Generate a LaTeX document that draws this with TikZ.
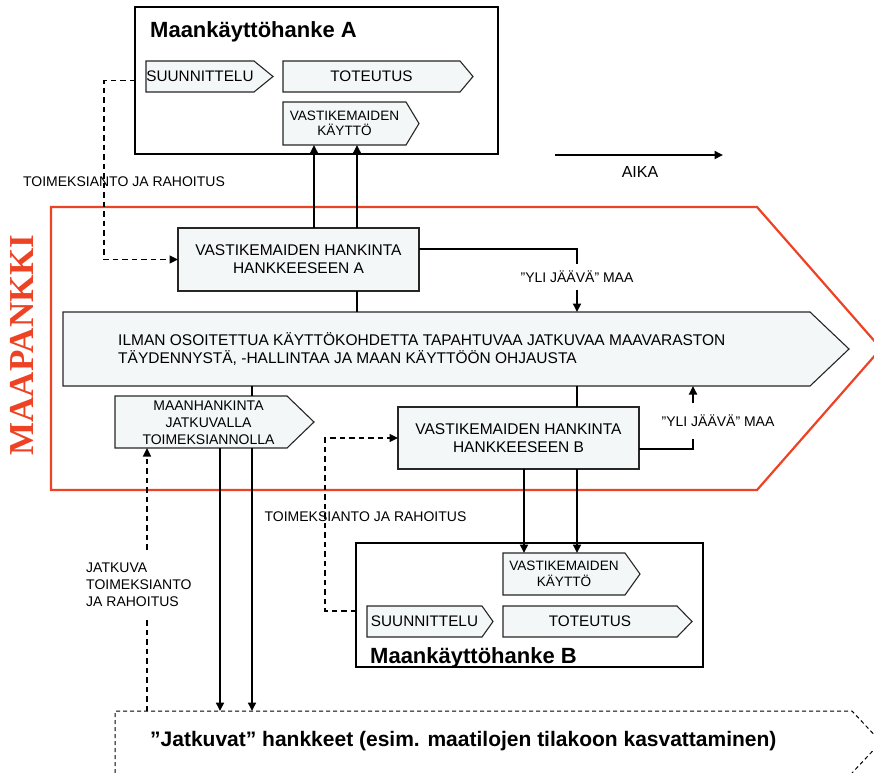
\documentclass[tikz,border=0pt]{standalone}
\usepackage{fontspec}
\setmainfont{Liberation Sans}
\newfontfamily\bankfont{Liberation Serif}
\usetikzlibrary{arrows.meta,calc}
\pgfdeclarelayer{background}
\pgfsetlayers{background,main}
\definecolor{boxfill}{RGB}{244,247,247}
\definecolor{bankred}{RGB}{238,66,36}
\newcommand\pentshape[2]{%
  \begin{pgfonlayer}{background}
  \path[shapeline] (#1.north west) -- (#1.north east) -- ($(#1.east)+(#2,0)$) -- (#1.south east) -- (#1.south west) -- cycle;
  \end{pgfonlayer}}
\begin{document}
\begin{tikzpicture}[x=1pt,y=-1pt,
  body/.style={inner sep=0pt,outer sep=0pt,align=center},
  rectbox/.style={draw=black!85,line width=1.2pt,fill=boxfill,inner sep=0pt,outer sep=0pt,align=center,font=\fontsize{15.5}{18}\selectfont},
  shapeline/.style={draw=black!85,line width=1.1pt,fill=boxfill},
  hanke/.style={draw=black,line width=1.6pt,inner sep=0pt,outer sep=0pt},
  conn/.style={line width=1.8pt,black},
  arr/.style={conn,-{Triangle[length=8.5pt,width=8pt]}},
  dasharr/.style={arr,line width=1.6pt,dash pattern=on 5.5pt off 4pt},
  lbl/.style={font=\fontsize{14}{17}\selectfont,inner sep=0pt},
  title/.style={font=\fontsize{22}{26}\selectfont\bfseries,anchor=base west,inner sep=0pt},
  f15/.style={font=\fontsize{15.3}{17}\selectfont},
  f135/.style={font=\fontsize{13.6}{15.5}\selectfont},
]
\useasboundingbox (0,0) rectangle (874,772);

% Maapankki frame
\node[body,minimum width=706pt,minimum height=283pt] (bank) at (404,348.5) {};
\begin{pgfonlayer}{background}
\draw[bankred,line width=2.2pt] (bank.north west) -- (bank.north east) -- ($(bank.east)+(124,0)$) -- (bank.south east) -- (bank.south west) -- cycle;
\end{pgfonlayer}
\node[rotate=90,text=bankred,inner sep=0pt,font=\bankfont\bfseries\fontsize{35}{40}\selectfont] (banklabel) at (21.5,345) {MAAPANKKI};

% Hanke A
\node[hanke,minimum width=363pt,minimum height=147pt] (hankeA) at (316.5,80.5) {};
\node[title] (titleA) at (150,37.5) {Maankäyttöhanke A};
\node[body,f15,minimum width=108pt,minimum height=31pt] (suA) at (200,76.5) {SUUNNITTELU};
\pentshape{suA}{19}
\node[body,f15,minimum width=177pt,minimum height=31pt] (toA) at (371.5,76.5) {TOTEUTUS};
\pentshape{toA}{13}
\node[body,f135,minimum width=123pt,minimum height=43pt] (kaA) at (344.5,123.5) {VASTIKEMAIDEN\\KÄYTTÖ};
\pentshape{kaA}{13}

% Hankinta A
\node[rectbox,minimum width=241pt,minimum height=63pt] (hkA) at (298.5,259.5) {VASTIKEMAIDEN HANKINTA\\HANKKEESEEN A};

% Main arrow
\node[body,minimum width=747pt,minimum height=74pt] (main) at (436.5,349) {};
\pentshape{main}{39}
\node[anchor=west,align=left,inner sep=0pt,font=\fontsize{15.5}{18}\selectfont] (mainT) at (118,348.5) {ILMAN OSOITETTUA KÄYTTÖKOHDETTA TAPAHTUVAA JATKUVAA MAAVARASTON\\TÄYDENNYSTÄ, -HALLINTAA JA MAAN KÄYTTÖÖN OHJAUSTA};

% Maanhankinta
\node[body,minimum width=172pt,minimum height=52pt] (mhk) at (201,422) {};
\pentshape{mhk}{27}
\node[lbl,align=center] (mhkT) at (208.5,423) {MAANHANKINTA\\JATKUVALLA\\TOIMEKSIANNOLLA};

% Hankinta B
\node[rectbox,minimum width=241pt,minimum height=62pt] (hkB) at (518.5,438) {VASTIKEMAIDEN HANKINTA\\HANKKEESEEN B};

% Hanke B
\node[hanke,minimum width=347pt,minimum height=124pt] (hankeB) at (529.5,605) {};
\node[title] (titleB) at (370,663) {Maankäyttöhanke B};
\node[body,f135,minimum width=122pt,minimum height=42pt] (kaB) at (564,574) {VASTIKEMAIDEN\\KÄYTTÖ};
\pentshape{kaB}{15}
\node[body,f15,minimum width=115pt,minimum height=31pt] (suB) at (424.5,621.5) {SUUNNITTELU};
\pentshape{suB}{11}
\node[body,f15,minimum width=174pt,minimum height=31pt] (toB) at (590,621.5) {TOTEUTUS};
\pentshape{toB}{15}

% Jatkuvat hankkeet
\node[body,minimum width=737pt,minimum height=62pt] (jat) at (483.5,742) {};
\draw[black,line width=1pt,dash pattern=on 4pt off 3pt] (jat.south west) -- (jat.north west) -- (jat.north east) -- ($(jat.east)+(29,0)$) -- (jat.south east);
\node[anchor=base west,inner sep=0pt,font=\fontsize{21}{25}\selectfont\bfseries] (jatT) at (150,746) {”Jatkuvat” hankkeet (esim. maatilojen tilakoon kasvattaminen)};

% Time arrow
\coordinate (t0) at (555,155);
\coordinate (t1) at (723,155);
\draw[arr] (t0) -- (t1);
\node[font=\fontsize{16}{18}\selectfont,inner sep=0pt] (aika) at (640,172) {AIKA};

% Connectors A
\draw[dasharr] (hankeA.west) -- ++(-31,0) |- (hkA.west);
\node[lbl] (toimA) at (124,182) {TOIMEKSIANTO JA RAHOITUS};
\draw[arr] ([xshift=15.5pt]hkA.north) -- ([xshift=15.5pt]hkA.north |- kaA.south);
\draw[arr] ([xshift=58.5pt]hkA.north) -- ([xshift=58.5pt]hkA.north |- kaA.south);
\draw[conn] ([xshift=58.5pt]hkA.south) -- ([xshift=58.5pt]hkA.south |- main.north);
\draw[arr] ([yshift=10.5pt]hkA.east) -| ([xshift=140.5pt]main.north);
\node[lbl,fill=white,inner ysep=7.5pt,inner xsep=1pt] (yliA) at (577,277) {”YLI JÄÄVÄ” MAA};

% Connectors B
\draw[conn] ([xshift=58.5pt]hkB.north) -- ([xshift=58.5pt]hkB.north |- main.south);
\draw[arr] ([xshift=5.5pt]hkB.south) -- ([xshift=5.5pt]hkB.south |- kaB.north);
\draw[arr] ([xshift=58.5pt]hkB.south) -- ([xshift=58.5pt]hkB.south |- kaB.north);
\draw[arr] ([yshift=-11pt]hkB.east) -| ([xshift=256.5pt]main.south);
\node[lbl,fill=white,inner ysep=12pt,inner xsep=1pt] (yliB) at (718,421) {”YLI JÄÄVÄ” MAA};
\draw[dasharr] ([yshift=-6pt]hankeB.west) -- ++(-31,0) |- (hkB.west);
\node[lbl] (toimB) at (365.5,517) {TOIMEKSIANTO JA RAHOITUS};

% Connectors continuous
\draw[conn] ([xshift=51pt]mhk.north) -- ([xshift=51pt]mhk.north |- main.south);
\draw[arr] ([xshift=19pt]mhk.south) -- ([xshift=19pt]mhk.south |- jat.north);
\draw[arr] ([xshift=51pt]mhk.south) -- ([xshift=51pt]mhk.south |- jat.north);
\draw[dasharr] ([xshift=-54pt]mhk.south |- jat.north) -- ([xshift=-54pt]mhk.south);
\node[lbl,anchor=west,align=left,fill=white,inner ysep=10pt,inner xsep=2pt] (jatL) at (84,585) {JATKUVA\\TOIMEKSIANTO\\JA RAHOITUS};
\end{tikzpicture}
\end{document}
